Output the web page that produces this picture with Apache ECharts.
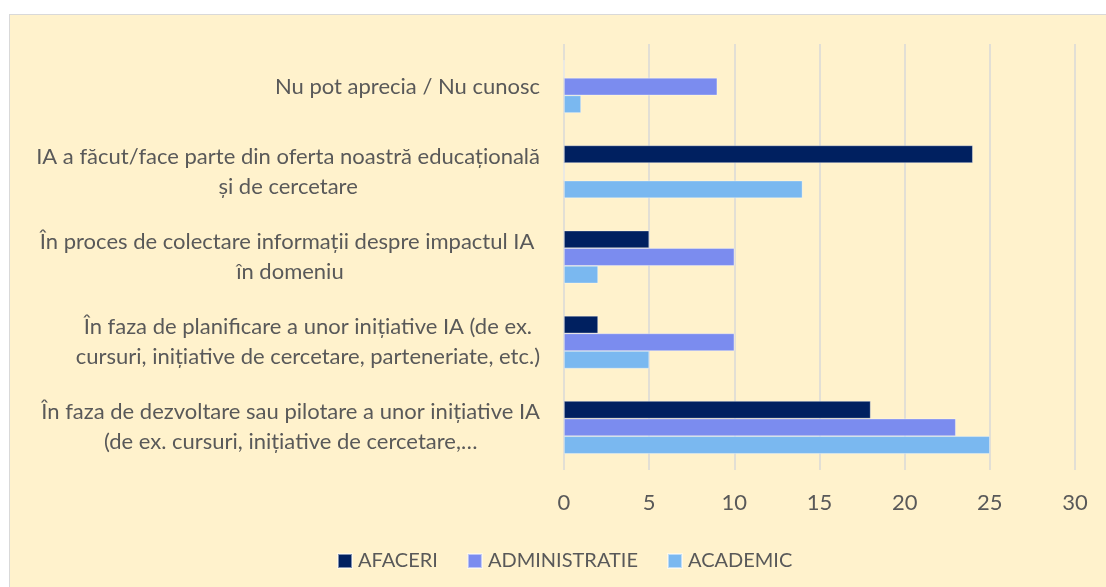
<!DOCTYPE html>
<html>
<head>
<meta charset="utf-8">
<script src="https://cdn.jsdelivr.net/npm/echarts@6/dist/echarts.min.js"></script>
<style>
  html, body { margin: 0; padding: 0; background: #ffffff; }
  #bg { position: absolute; left: 9px; top: 14px; width: 1110px; height: 590px; background: #FFF2CC; border: 1px solid #D9D9D9; }
  #chart { position: absolute; left: 0; top: 0; width: 1106px; height: 587px; }
</style>
</head>
<body>
<div id="bg"></div>
<div id="chart"></div>
<script>
var categories = [
    'Nu pot aprecia / Nu cunosc',
    'IA a făcut/face parte din oferta noastră educațională\nși de cercetare',
    'În proces de colectare informații despre impactul IA \nîn domeniu',
    'În faza de planificare a unor inițiative IA (de ex.\ncursuri, inițiative de cercetare, parteneriate, etc.)',
    'În faza de dezvoltare sau pilotare a unor inițiative IA\n(de ex. cursuri, inițiative de cercetare,…'
];
var seriesNames = ['AFACERI', 'ADMINISTRATIE', 'ACADEMIC'];
var afaceri = [0, 24, 5, 2, 18];
var administratie = [9, 0, 10, 10, 23];
var academic = [1, 14, 2, 5, 25];
var colors = ['#002060', '#7B8CEF', '#7AB8F0'];

var font = 'Lato';
var textColor = '#595959';

var chart = echarts.init(document.getElementById('chart'));

function bar(name, data, color) {
    return {
        name: name,
        type: 'bar',
        data: data,
        barGap: '0%',
        barCategoryGap: '38%',
        itemStyle: { color: color, borderColor: 'rgba(255,255,255,0.5)', borderWidth: 0.7 }
    };
}

var option = {
    backgroundColor: 'transparent',
    animation: false,
    textStyle: { fontFamily: font },
    grid: { left: 564, right: 31, top: 44, bottom: 117, containLabel: false },
    legend: {
        left: 332,
        top: 546,
        itemWidth: 14,
        itemHeight: 14,
        itemGap: 29,
        icon: 'rect',
        textStyle: { fontFamily: font, fontSize: 20, color: textColor, padding: [0, 0, 0, 1] },
        data: seriesNames
    },
    xAxis: {
        type: 'value',
        min: 0,
        max: 30,
        interval: 5,
        axisLine: { show: false },
        axisTick: { show: false },
        splitLine: { lineStyle: { color: '#D9D9D9', width: 1.5 } },
        axisLabel: { fontFamily: font, fontSize: 22, color: textColor, margin: 22 }
    },
    yAxis: {
        type: 'category',
        inverse: true,
        data: categories,
        axisLine: { show: false },
        axisTick: { show: false },
        axisLabel: {
            margin: 24,
            formatter: function (v) {
                return v.split('\n').map(function (l) { return '{c|' + l + '}'; }).join('\n');
            },
            rich: {
                c: { align: 'center', fontFamily: font, fontSize: 22, color: textColor, lineHeight: 30 }
            }
        }
    },
    series: [
        bar(seriesNames[0], afaceri, colors[0]),
        bar(seriesNames[1], administratie, colors[1]),
        bar(seriesNames[2], academic, colors[2])
    ]
};
chart.setOption(option);
window.addEventListener('resize', chart.resize);
</script>
</body>
</html>
